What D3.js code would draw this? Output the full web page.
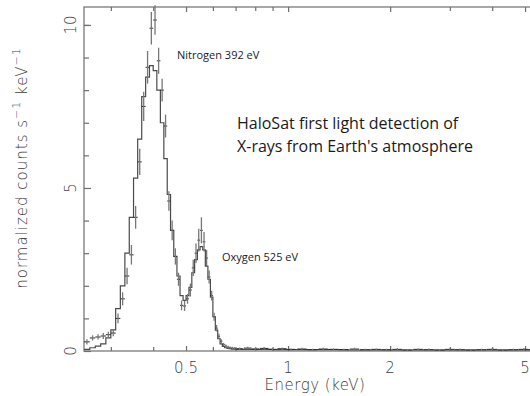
<!DOCTYPE html>
<html lang="en">
<head>
<meta charset="UTF-8">
<title>HaloSat first light spectrum</title>
<script src="https://d3js.org/d3.v7.min.js"></script>
<style>
    body { margin: 0; background: #fff; }
    svg text { font-family: "DejaVu Sans", sans-serif; font-weight: 200; }
    .note { font-family: "Open Sans", sans-serif; font-weight: 400 !important; fill: #1a1a1a; }
</style>
</head>
<body>
<svg width="530" height="396"></svg>
<script>
    // model histogram: bin lower edges (keV) and model values
    const binLo = [0.25, 0.26, 0.27, 0.28, 0.29, 0.30, 0.31, 0.32, 0.33, 0.34,
        0.35, 0.36, 0.37, 0.38, 0.39, 0.40, 0.41, 0.42, 0.43, 0.44,
        0.45, 0.46, 0.47, 0.48, 0.49, 0.50, 0.51, 0.52, 0.53, 0.54,
        0.55, 0.56, 0.57, 0.58, 0.59, 0.60, 0.61, 0.62, 0.63, 0.64,
        0.65, 0.66, 0.67, 0.68, 0.69, 0.70, 0.75, 0.80, 0.90, 1.0,
        1.2, 1.5, 2.0, 3.0, 4.0, 5.5];
    const model = [0.05, 0.10, 0.15, 0.22, 0.40, 0.65, 1.3, 2.0, 3.0, 4.1,
        5.3, 6.5, 7.8, 8.4, 8.75, 8.6, 8.0, 7.0, 5.9, 4.8,
        3.7, 2.9, 2.3, 1.7, 1.55, 1.7, 1.95, 2.4, 2.8, 3.1,
        3.2, 3.1, 2.6, 2.2, 1.65, 1.05, 0.64, 0.38, 0.22, 0.14,
        0.10, 0.08, 0.07, 0.06, 0.06, 0.05, 0.05, 0.05, 0.04, 0.04,
        0.04, 0.03, 0.03, 0.03, 0.03];

    // data points: energy (keV), half bin width, normalized counts, error
    const dataE = [0.255, 0.265, 0.275, 0.285, 0.295, 0.305, 0.315, 0.325, 0.335, 0.345,
        0.355, 0.365, 0.375, 0.385, 0.395, 0.405, 0.415, 0.425, 0.435, 0.445,
        0.455, 0.465, 0.475, 0.485, 0.495, 0.505, 0.515, 0.525, 0.535, 0.545,
        0.555, 0.565, 0.575, 0.585, 0.595, 0.605, 0.615, 0.625, 0.635, 0.645,
        0.655, 0.665, 0.675, 0.685, 0.695, 0.72, 0.76, 0.80, 0.85, 0.90,
        0.96, 1.02, 1.10, 1.18, 1.27, 1.36, 1.46, 1.57, 1.69, 1.82,
        1.95, 2.10, 2.25, 2.42, 2.60, 2.80, 3.00, 3.22, 3.46, 3.72,
        4.00, 4.30, 4.62, 4.96, 5.30];
    const dataHalf = [0.005, 0.005, 0.005, 0.005, 0.005, 0.005, 0.005, 0.005, 0.005, 0.005,
        0.005, 0.005, 0.005, 0.005, 0.005, 0.005, 0.005, 0.005, 0.005, 0.005,
        0.005, 0.005, 0.005, 0.005, 0.005, 0.005, 0.005, 0.005, 0.005, 0.005,
        0.005, 0.005, 0.005, 0.005, 0.005, 0.005, 0.005, 0.005, 0.005, 0.005,
        0.005, 0.005, 0.005, 0.005, 0.005, 0.015, 0.02, 0.02, 0.025, 0.025,
        0.03, 0.03, 0.035, 0.04, 0.04, 0.045, 0.05, 0.05, 0.06, 0.06,
        0.065, 0.07, 0.075, 0.08, 0.09, 0.1, 0.1, 0.11, 0.12, 0.13,
        0.14, 0.15, 0.16, 0.17, 0.17];
    const counts = [0.28, 0.40, 0.43, 0.46, 0.50, 0.55, 1.0, 1.6, 2.3, 2.95,
        4.1, 5.8, 7.5, 8.7, 9.9, 10.15, 8.9, 8.0, 6.9, 4.6,
        3.7, 2.9, 2.2, 1.4, 1.38, 1.6, 1.87, 2.55, 3.0, 3.4,
        3.7, 3.35, 2.85, 2.27, 1.7, 1.05, 0.7, 0.45, 0.30, 0.20,
        0.15, 0.12, 0.10, 0.09, 0.08, 0.07, 0.09, 0.06, 0.08, 0.05,
        0.07, 0.05, 0.06, 0.04, 0.06, 0.05, 0.04, 0.06, 0.04, 0.05,
        0.04, 0.05, 0.03, 0.05, 0.04, 0.03, 0.05, 0.04, 0.03, 0.04,
        0.05, 0.03, 0.04, 0.05, 0.04];
    const errs = [0.08, 0.08, 0.08, 0.09, 0.09, 0.1, 0.15, 0.2, 0.25, 0.3,
        0.35, 0.4, 0.45, 0.5, 0.5, 0.45, 0.4, 0.35, 0.35, 0.3,
        0.3, 0.25, 0.2, 0.15, 0.15, 0.15, 0.2, 0.25, 0.3, 0.35,
        0.4, 0.3, 0.25, 0.2, 0.15, 0.12, 0.1, 0.08, 0.06, 0.05,
        0.05, 0.04, 0.04, 0.04, 0.04, 0.04, 0.04, 0.03, 0.04, 0.03,
        0.04, 0.03, 0.04, 0.03, 0.04, 0.03, 0.03, 0.04, 0.03, 0.03,
        0.03, 0.04, 0.03, 0.03, 0.04, 0.03, 0.03, 0.04, 0.03, 0.03,
        0.04, 0.03, 0.03, 0.04, 0.03];

    const xMajor = [0.5, 1, 2, 5];
    const xMinor = [0.3, 0.4, 0.6, 0.7, 0.8, 0.9, 3, 4];
    const yMajor = [0, 5, 10];
    const yMinor = [1, 2, 3, 4, 6, 7, 8, 9, 10];

    const axisColor = "#6e6e6e";
    const labelColor = "#3c3c3c";
    const svg = d3.select("svg");

    const x = d3.scaleLog().domain([0.25, 5.5]).range([84, 84 + 339 * Math.log10(22)]);
    const y = d3.scaleLinear().domain([0, 10.55]).range([351, 7]);

    // frame
    svg.append("rect")
        .attr("x", x.range()[0]).attr("y", y.range()[1])
        .attr("width", x.range()[1] - x.range()[0])
        .attr("height", y.range()[0] - y.range()[1])
        .attr("fill", "none").attr("stroke", axisColor).attr("stroke-width", 1.2);

    function ticks(axisFn, scale, values, size, tr) {
        const g = svg.append("g").attr("transform", tr)
            .call(axisFn(scale).tickValues(values).tickSize(size).tickFormat(""));
        g.select(".domain").remove();
        g.selectAll("line").attr("stroke", axisColor).attr("stroke-width", 1.2);
        return g;
    }
    // ticks point inward on all drawn sides
    ticks(d3.axisTop, x, xMajor, 5, `translate(0,${y(0)})`);
    ticks(d3.axisTop, x, xMinor, 4, `translate(0,${y(0)})`);
    ticks(d3.axisBottom, x, xMajor, 5, `translate(0,${y.range()[1]})`);
    ticks(d3.axisBottom, x, xMinor, 4, `translate(0,${y.range()[1]})`);
    ticks(d3.axisRight, y, yMajor, 7, `translate(${x.range()[0]},0)`);
    ticks(d3.axisRight, y, yMinor, 5, `translate(${x.range()[0]},0)`);

    // x tick labels
    svg.selectAll(".xlab").data(xMajor).enter().append("text")
        .attr("x", d => x(d)).attr("y", y(0) + 22)
        .attr("text-anchor", "middle").attr("fill", labelColor)
        .style("font-size", "15px").text(d => d);

    // y tick labels, rotated
    svg.selectAll(".ylab").data(yMajor).enter().append("text")
        .attr("transform", d => `translate(76,${y(d)}) rotate(-90)`)
        .attr("text-anchor", "middle").attr("fill", labelColor)
        .style("font-size", "15px").text(d => d);

    svg.append("text")
        .attr("x", 315).attr("y", 390)
        .attr("text-anchor", "middle").attr("fill", labelColor)
        .style("font-size", "15px").style("letter-spacing", "0.5px")
        .text("Energy (keV)");

    const ytitle = svg.append("text")
        .attr("transform", "translate(27,168) rotate(-90)")
        .attr("text-anchor", "middle").attr("fill", labelColor)
        .style("font-size", "15px").style("letter-spacing", "1px");
    ytitle.append("tspan").text("normalized counts s");
    ytitle.append("tspan").attr("dy", -7).style("font-size", "11px").text("−1");
    ytitle.append("tspan").attr("dy", 7).text(" keV");
    ytitle.append("tspan").attr("dy", -7).style("font-size", "11px").text("−1");

    // model step histogram
    const steps = [];
    model.forEach((v, i) => {
        steps.push([binLo[i], v]);
        steps.push([binLo[i + 1], v]);
    });
    svg.append("path")
        .datum(steps)
        .attr("fill", "none").attr("stroke", "#4a4a4a").attr("stroke-width", 1.2)
        .attr("d", d3.line().x(d => x(d[0])).y(d => y(d[1])));

    // data crosses
    const pts = dataE.map((e, i) => ({ e, h: dataHalf[i], v: counts[i], err: errs[i] }));
    const cross = svg.append("g").attr("stroke", "#2a2a2a").attr("stroke-width", 1);
    cross.selectAll(".h").data(pts).enter().append("line")
        .attr("x1", d => x(d.e - d.h)).attr("x2", d => x(d.e + d.h))
        .attr("y1", d => y(d.v)).attr("y2", d => y(d.v));
    cross.selectAll(".v").data(pts).enter().append("line")
        .attr("x1", d => x(d.e)).attr("x2", d => x(d.e))
        .attr("y1", d => y(d.v - d.err)).attr("y2", d => y(d.v + d.err))
        .attr("stroke", "#777").attr("stroke-width", 1.3);

    // annotations
    svg.append("text").attr("class", "note")
        .attr("x", 177).attr("y", 59).style("font-size", "11px")
        .text("Nitrogen 392 eV");
    svg.append("text").attr("class", "note")
        .attr("x", 222).attr("y", 261).style("font-size", "11px")
        .text("Oxygen 525 eV");
    svg.append("text").attr("class", "note")
        .attr("x", 237).attr("y", 129).style("font-size", "16px")
        .text("HaloSat first light detection of");
    svg.append("text").attr("class", "note")
        .attr("x", 237).attr("y", 152).style("font-size", "16px")
        .text("X-rays from Earth's atmosphere");
</script>
</body>
</html>
